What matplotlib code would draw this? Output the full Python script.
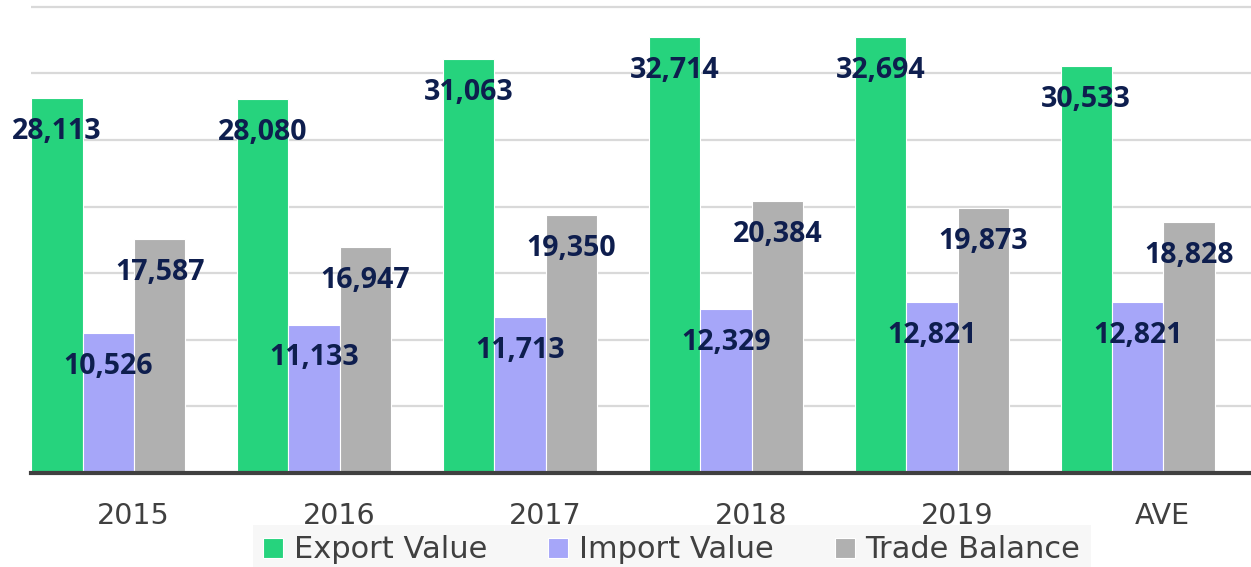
import numpy as np
import matplotlib.pyplot as plt
from matplotlib.transforms import ScaledTranslation

years = ["2015", "2016", "2017", "2018", "2019", "AVE"]
export_value = [28113, 28080, 31063, 32714, 32694, 30533]
import_value = [10526, 11133, 11713, 12329, 12821, 12821]
trade_balance = [17587, 16947, 19350, 20384, 19873, 18828]

series = [("Export Value", export_value, "#26D37D"),
          ("Import Value", import_value, "#A6A6F9"),
          ("Trade Balance", trade_balance, "#B0B0B0")]

fig = plt.figure(figsize=(12.51, 5.67), dpi=100)
ax = fig.add_axes([0.0248, 0.1658, 0.9752, 0.8342])

x = np.arange(len(years))
w = 0.25
for i, (name, vals, col) in enumerate(series):
    bars = ax.bar(x + (i - 1) * w, vals, w, color=col, label=name,
                  edgecolor="white", linewidth=0.8, zorder=2)
    for b, v in zip(bars, vals):
        ax.annotate(f"{v:,}", (b.get_x() + b.get_width() / 2, v),
                    xytext=(0, -24), textcoords="offset points",
                    ha="center", va="center", fontsize=20.5,
                    fontweight="bold", family="Open Sans",
                    color="#0E1E4E", zorder=3)

ax.set_ylim(0, 35500)
ax.set_xlim(-0.375, 5.55)
ax.set_yticks(np.arange(5000, 35001, 5000))
ax.yaxis.grid(True, color="#D9D9D9", linewidth=1.6, zorder=0)
ax.set_axisbelow(True)
ax.tick_params(axis="y", left=False, labelleft=False)
ax.set_xticks(x)
ax.set_xticklabels(years, fontsize=20.5, color="#404040", family="DejaVu Sans")
ax.tick_params(axis="x", length=0, pad=21)
# category labels sit a bit right of the group centres in the original
shift = ScaledTranslation(25 / 100, 0, fig.dpi_scale_trans)
for lab in ax.get_xticklabels():
    lab.set_transform(lab.get_transform() + shift)
for s in ["top", "right", "left"]:
    ax.spines[s].set_visible(False)
ax.spines["bottom"].set_color("#404040")
ax.spines["bottom"].set_linewidth(3)

leg = fig.legend(loc="center", bbox_to_anchor=(0.537, 0.03), ncol=3,
                 frameon=True, facecolor="#F6F6F6", edgecolor="none",
                 fancybox=False, handlelength=0.65, handleheight=0.65,
                 handletextpad=0.35, columnspacing=2.0, borderpad=0.35,
                 prop={"size": 22, "family": "DejaVu Sans"})
for t in leg.get_texts():
    t.set_color("#404040")

fig.savefig("out.png", dpi=100)
